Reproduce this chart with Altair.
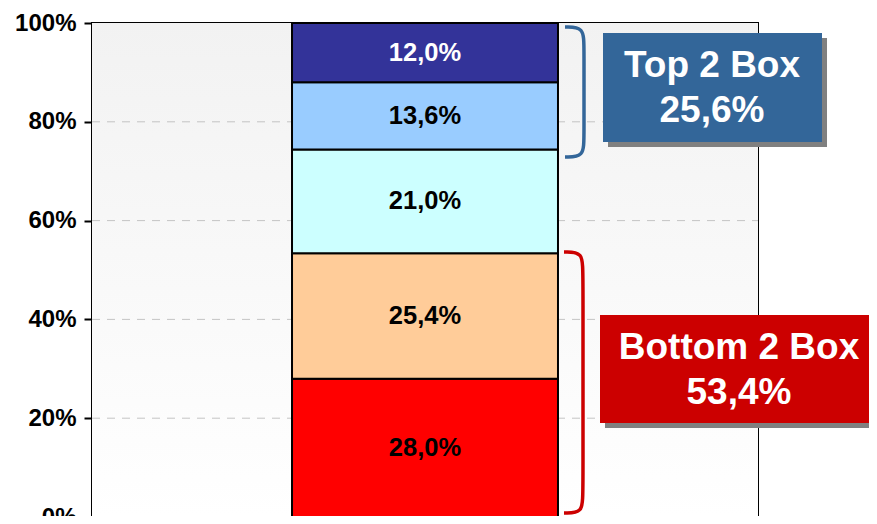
import altair as alt
import pandas as pd

# ---- data ----
levels = ["Stufe 1", "Stufe 2", "Stufe 3", "Stufe 4", "Stufe 5"]
values = [28.0, 25.4, 21.0, 13.6, 12.0]
seg_colors = ["#FF0000", "#FFCC99", "#CCFFFF", "#99CCFF", "#333399"]
label_colors = ["black", "black", "black", "black", "white"]
y_ticks = [0, 20, 40, 60, 80, 100]
grid_ticks = [20, 40, 60, 80]
top2_label = "Top 2 Box"
bottom2_label = "Bottom 2 Box"

W, H = 666, 494
FONT = "Liberation Sans"


def fmt(v):
    return f"{v:.1f}".replace(".", ",") + "%"


def pct(py):
    # plot-relative pixel row -> percent on the y scale
    return (H - py) * 100.0 / H


# stacked segments
rows = []
cum = 0.0
for lv, v, c, tc in zip(levels, values, seg_colors, label_colors):
    rows.append({"group": "A", "level": lv, "y0": cum, "y1": cum + v,
                 "mid": cum + v / 2, "label": fmt(v), "tcol": tc})
    cum += v
df = pd.DataFrame(rows)

top2 = values[3] + values[4]
bottom2 = values[0] + values[1]

y_scale = alt.Scale(domain=[0, 100], nice=False, zero=True)
px_scale = alt.Scale(domain=[0, W], nice=False, zero=False)
y_axis = alt.Axis(values=y_ticks, labelExpr="datum.value + '%'", title=None,
                  grid=False, labelFont=FONT, labelFontSize=24,
                  labelFontWeight="bold", labelColor="black", tickColor="black",
                  tickSize=8, tickWidth=2, domainColor="black", domainWidth=2,
                  labelPadding=8)

# ---- background gradient ----
bg = alt.Chart(pd.DataFrame({"a": [0]})).mark_rect(
    color=alt.LinearGradient(
        gradient="linear",
        stops=[alt.GradientStop(color="#F2F2F2", offset=0),
               alt.GradientStop(color="#FFFFFF", offset=1)],
        x1=0, x2=0, y1=0, y2=1)
).encode(x=alt.value(0), x2=alt.value(W), y=alt.value(0), y2=alt.value(H))

# ---- grid ----
grid = alt.Chart(pd.DataFrame({"v": grid_ticks})).mark_rule(
    strokeDash=[8, 7], color="#C4C4C4", strokeWidth=1
).encode(y=alt.Y("v:Q", scale=y_scale, axis=y_axis), x=alt.value(0), x2=alt.value(W))

# ---- bar ----
x_band = alt.X("group:N", axis=None,
               scale=alt.Scale(paddingInner=0, paddingOuter=0.752))
bars = alt.Chart(df).mark_bar(stroke="black", strokeWidth=2).encode(
    x=x_band,
    y=alt.Y("y0:Q", scale=y_scale, axis=y_axis), y2="y1:Q",
    color=alt.Color("level:N", scale=alt.Scale(domain=levels, range=seg_colors), legend=None),
)
texts = alt.Chart(df).mark_text(font=FONT, fontSize=25.5, fontWeight="bold",
                                baseline="middle", align="center").encode(
    x=x_band,
    y=alt.Y("mid:Q", scale=y_scale, axis=y_axis),
    text="label:N",
    color=alt.Color("tcol:N", scale=None),
)

# ---- braces ----
def brace(name, col, x0, x1, t, b, r):
    pts = [(x0, t), (x1, t), (x1, t + r), (x1, b - r), (x1, b), (x0, b)]
    return [{"brace": name, "col": col, "i": i, "bx": px, "by": pct(py)}
            for i, (px, py) in enumerate(pts)]

brace_df = pd.DataFrame(brace("top", "#336699", 473, 492, 4, 134, 20)
                        + brace("bottom", "#CC0000", 472, 491, 229, 490, 20))
braces = alt.Chart(brace_df).mark_line(interpolate="basis", strokeWidth=3.5).encode(
    x=alt.X("bx:Q", scale=px_scale, axis=None),
    y=alt.Y("by:Q", scale=y_scale, axis=y_axis),
    detail="brace:N",
    order="i:O",
    color=alt.Color("col:N", scale=None),
)

# ---- callout boxes ----
boxes = [
    {"name": "top", "col": "#336699", "x0": 511, "x1": 730, "t": 10, "b": 119,
     "tx": 620, "ty": 42.5, "text": f"{top2_label}\n{fmt(top2)}"},
    {"name": "bottom", "col": "#CC0000", "x0": 508, "x1": 790, "t": 292, "b": 400,
     "tx": 647, "ty": 325, "text": f"{bottom2_label}\n{fmt(bottom2)}"},
]
box_df = pd.DataFrame([{**b, "y0": pct(b["t"]), "y1": pct(b["b"]),
                        "sx0": b["x0"] + 5, "sx1": b["x1"] + 5,
                        "sy0": pct(b["t"] + 5), "sy1": pct(b["b"] + 5),
                        "typ": pct(b["ty"])} for b in boxes])

shadows = alt.Chart(box_df).mark_rect(color="#808080").encode(
    x=alt.X("sx0:Q", scale=px_scale, axis=None), x2="sx1:Q",
    y=alt.Y("sy0:Q", scale=y_scale, axis=y_axis), y2="sy1:Q",
)
box_rects = alt.Chart(box_df).mark_rect().encode(
    x=alt.X("x0:Q", scale=px_scale, axis=None), x2="x1:Q",
    y=alt.Y("y0:Q", scale=y_scale, axis=y_axis), y2="y1:Q",
    color=alt.Color("col:N", scale=None),
)
box_text = alt.Chart(box_df).mark_text(
    font=FONT, fontSize=37, fontWeight="bold", color="white",
    lineBreak="\n", lineHeight=45, align="center", baseline="middle"
).encode(
    x=alt.X("tx:Q", scale=px_scale, axis=None),
    y=alt.Y("typ:Q", scale=y_scale, axis=y_axis),
    text="text:N",
)

chart = alt.layer(
    bg, grid, bars, texts, braces, shadows, box_rects, box_text
).resolve_scale(x="independent").properties(
    width=W, height=H,
    autosize=alt.AutoSizeParams(type="none"),
    padding={"left": 84, "top": 15, "right": 111, "bottom": -1},
).configure_view(stroke="black", strokeWidth=2)

chart.save("out.html", embed_options={"renderer": "svg", "actions": False})
